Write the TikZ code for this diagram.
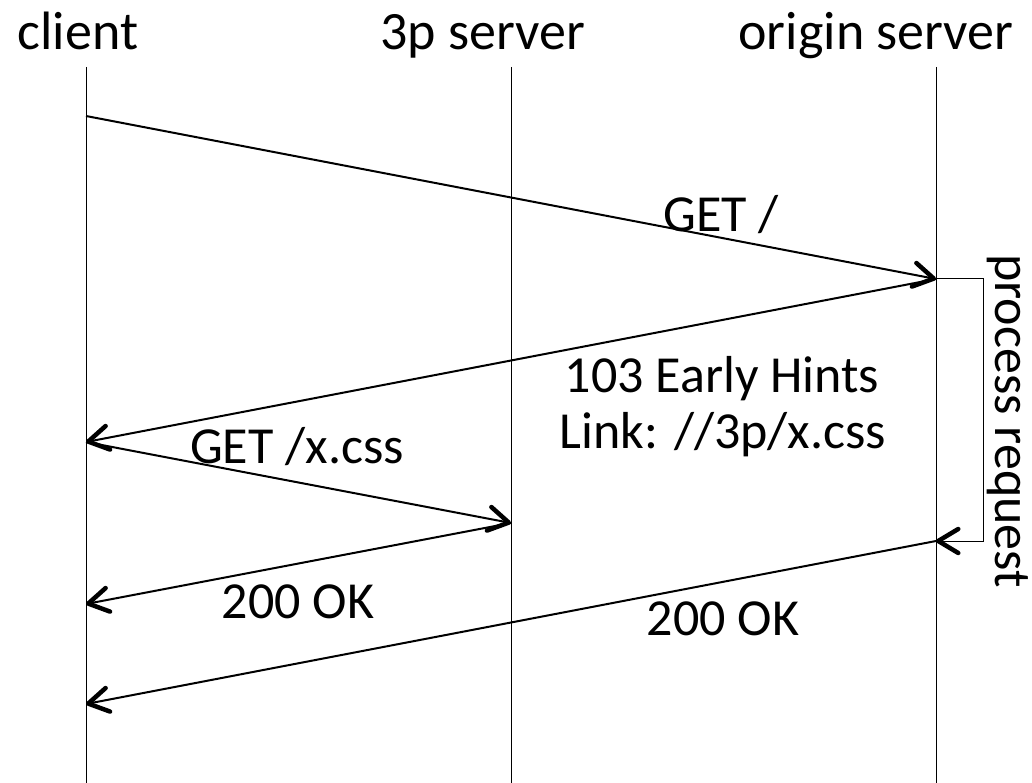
\documentclass[tikz,border=0pt]{standalone}
\usepackage{fontspec}
\setmainfont{Carlito}
\usetikzlibrary{arrows.meta}
\begin{document}
\begin{tikzpicture}[x=1pt,y=-1pt,
  lifeline/.style={line width=1pt},
  msg/.style={line width=2pt, -{Straight Barb[length=20pt,width=24pt,line width=4.5pt,round]}},
  bracket/.style={line width=1pt, -{Straight Barb[length=20pt,width=24pt,line width=4.5pt,round]}},
  lbl/.style={font=\fontsize{52}{62}\selectfont, inner sep=0pt, anchor=base},
  hdr/.style={font=\fontsize{54}{64}\selectfont, inner sep=0pt, anchor=base}]
\useasboundingbox (0,0) rectangle (1032,783);
% headers
\node[hdr] (hc) at (78,50) {client};
\node[hdr] (hp) at (483,50) {3p server};
\node[hdr] (ho) at (876,50) {origin server};
% lifelines
\coordinate (ct) at (86,67);  \coordinate (cb) at (86,783);
\coordinate (pt) at (511,67); \coordinate (pb) at (511,783);
\coordinate (ot) at (936,67); \coordinate (ob) at (936,783);
\draw[lifeline] (ct) -- (cb);
\draw[lifeline] (pt) -- (pb);
\draw[lifeline] (ot) -- (ob);
% events
\coordinate (c1) at (86,116);
\coordinate (o1) at (936,279);
\coordinate (c2) at (86,442);
\coordinate (p1) at (511,523);
\coordinate (c3) at (86,604);
\coordinate (o2) at (936,541);
\coordinate (c4) at (86,704);
\coordinate (b1) at (983,279);
\coordinate (b2) at (983,541);
% messages
\draw[msg] (c1) -- (o1);
\draw[msg] (o1) -- (c2);
\draw[msg] (c2) -- (p1);
\draw[msg] (p1) -- (c3);
\draw[msg] (o2) -- (c4);
\draw[bracket] (o1) -- (b1) -- (b2) -- (o2);
% labels
\node[lbl] (l1) at (721,232) {GET /};
\node[lbl] (l2) at (722,392) {103 Early Hints};
\node[lbl] (l3) at (723,448) {Link: //3p/x.css};
\node[lbl] (l4) at (297,463) {GET /x.css};
\node[lbl] (l5) at (298,618) {200 OK};
\node[lbl] (l6) at (723,635) {200 OK};
\node[lbl, rotate=-90] (pr) at (995,421) {process request};
\end{tikzpicture}
\end{document}
